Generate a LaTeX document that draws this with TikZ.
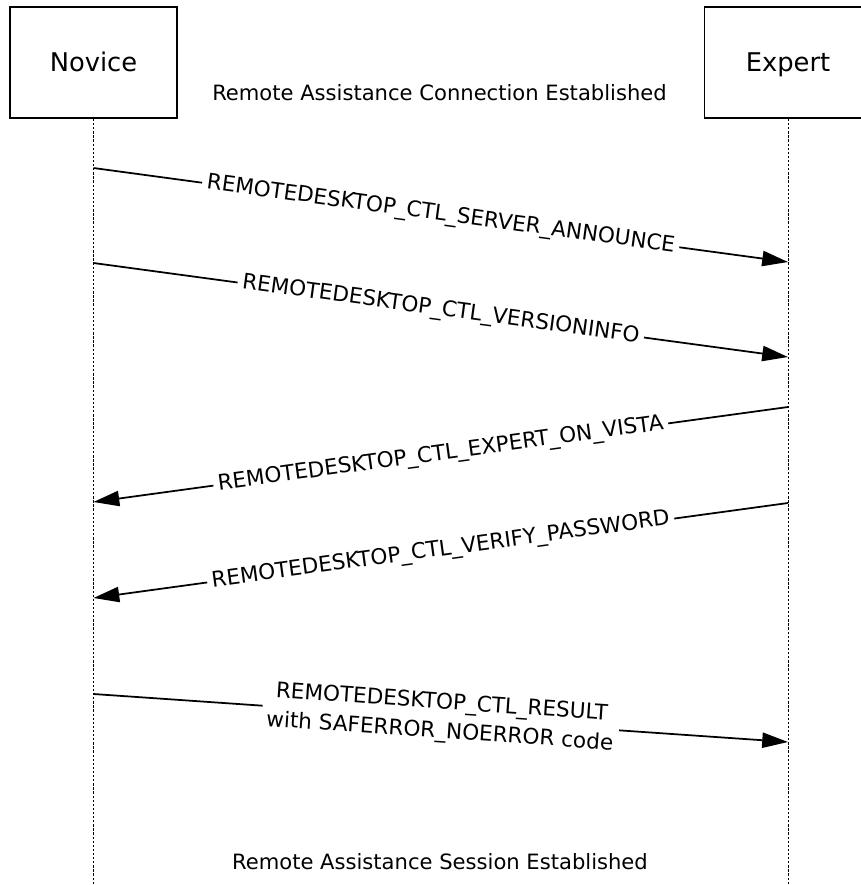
\documentclass[tikz,border=0pt]{standalone}
\usepackage{fontspec}
\setmainfont{DejaVu Sans}
\usepackage{tikz}
\usetikzlibrary{arrows.meta,positioning}

\begin{document}
\begin{tikzpicture}[
x=0.03cm, y=-0.03cm,
actor/.style={rectangle, draw, line width=1.6pt, minimum width=5.01cm, minimum height=3.33cm, text height=16pt, text depth=0pt, font=\fontsize{22}{26}\selectfont},
lifeline/.style={line width=0.8pt, dash pattern=on 2pt off 1.5pt},
msg/.style={line width=1.5pt, -{Triangle[length=22pt, width=13pt]}},
msglabel/.style={fill=white, sloped, midway, inner xsep=4pt, inner ysep=1pt, align=center, font=\fontsize{18.4}{25}\selectfont},
note/.style={anchor=base, font=\fontsize{18}{22}\selectfont}
]
\useasboundingbox (0,0) rectangle (861,885);
\clip (0,0) rectangle (861,885);

% Participants
\node[actor] (novice) at (93.5,62.5) {Novice};
\node[actor] (expert) at (788,62.5) {Expert};

% Lifelines
\coordinate (novice end) at (93.5,885);
\coordinate (expert end) at (788,885);
\draw[lifeline] (novice.south) -- (novice end);
\draw[lifeline] (expert.south) -- (expert end);

% Message ends
\coordinate (n1) at (93.5,168);  \coordinate (e1) at (788,262);
\coordinate (n2) at (93.5,263);  \coordinate (e2) at (788,357);
\coordinate (e3) at (788,407);   \coordinate (n3) at (93.5,502);
\coordinate (e4) at (788,503);   \coordinate (n4) at (93.5,598);
\coordinate (n5) at (93.5,694);  \coordinate (e5) at (788,742);

% Messages
\draw[msg] (n1) -- node[msglabel] {REMOTEDESKTOP\_CTL\_SERVER\_ANNOUNCE} (e1);
\draw[msg] (n2) -- node[msglabel] {REMOTEDESKTOP\_CTL\_VERSIONINFO} (e2);
\draw[msg] (e3) -- node[msglabel] {REMOTEDESKTOP\_CTL\_EXPERT\_ON\_VISTA} (n3);
\draw[msg] (e4) -- node[msglabel] {REMOTEDESKTOP\_CTL\_VERIFY\_PASSWORD} (n4);
\draw[msg] (n5) -- node[msglabel] {REMOTEDESKTOP\_CTL\_RESULT\\with SAFERROR\_NOERROR code} (e5);

% States
\node[note] (connected) at (439.5,100) {Remote Assistance Connection Established};
\node[note] (session) at (440,869) {Remote Assistance Session Established};

\end{tikzpicture}
\end{document}
